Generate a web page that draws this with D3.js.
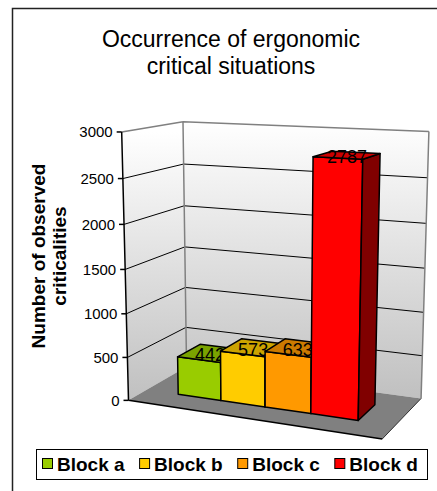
<!DOCTYPE html>
<html>
<head>
<meta charset="utf-8">
<script src="https://cdn.jsdelivr.net/npm/d3@7"></script>
<style>
  body { margin: 0; background: #fff; }
  text { font-family: "Liberation Sans", Arial, Helvetica, sans-serif; }
</style>
</head>
<body>
<script>
// ---- data ----
const categories = ["Block a", "Block b", "Block c", "Block d"];
const values = [442, 573, 633, 2787];
const colors = ["#99cc00", "#ffcc00", "#ff9900", "#ff0000"];
const topColors = ["#7aa300", "#cca300", "#cc7a00", "#cc0000"];
const sideColors = ["#4d6600", "#806600", "#804d00", "#800000"];
const yTicks = [0, 500, 1000, 1500, 2000, 2500, 3000];
const titleLines = ["Occurrence of ergonomic", "critical situations"];
const yTitleLines = ["Number of observed", "criticalities"];

const W = 437, H = 491;
const svg = d3.select("body").append("svg").attr("width", W).attr("height", H);

// ---- 3D plot box: screen positions of the box corners and wall gridlines ----
// box coordinates: u (left->right), v (value fraction), w (front->back)
const frontLeft = (y) => [128.3 - 6.6 * (399.5 - y) / 267, y];
const backLeft = (y) => [187 - 4.3 * (368 - y) / 247, y];
const backRight = (y) => [420.5 + 8.8 * (398 - y) / 266, y];
const calib = [
  [0, 0, 0, 128.3, 399.5], [0, 1, 0, 121.7, 132.5],
  [0, 0, 1, 187, 368], [0, 1, 1, 182.7, 121],
  [1, 1, 1, 429.3, 132.3], [1, 0, 1, 420.5, 398],
  [1, 0, 0, 383, 440]
];
[357, 313, 269, 225, 179].forEach((y, k) => calib.push([0, (k + 1) / 6, 0, ...frontLeft(y)]));
[327.7, 287.7, 246.7, 205.7, 164].forEach((y, k) => calib.push([0, (k + 1) / 6, 1, ...backLeft(y)]));
[356, 311.7, 268.3, 221.7, 178.3].forEach((y, k) => calib.push([1, (k + 1) / 6, 1, ...backRight(y)]));

// least-squares fit of a projective camera (3x4, last entry fixed to 1)
function fitCamera(pts) {
  const n = 11;
  const M = Array.from({ length: n }, () => new Array(n + 1).fill(0));
  const addRow = (r, b) => {
    for (let i = 0; i < n; i++) {
      for (let j = 0; j < n; j++) M[i][j] += r[i] * r[j];
      M[i][n] += r[i] * b;
    }
  };
  pts.forEach(([X, Y, Z, x, y]) => {
    addRow([X, Y, Z, 1, 0, 0, 0, 0, -x * X, -x * Y, -x * Z], x);
    addRow([0, 0, 0, 0, X, Y, Z, 1, -y * X, -y * Y, -y * Z], y);
  });
  for (let c = 0; c < n; c++) {
    let p = c;
    for (let r = c + 1; r < n; r++) if (Math.abs(M[r][c]) > Math.abs(M[p][c])) p = r;
    [M[c], M[p]] = [M[p], M[c]];
    for (let r = 0; r < n; r++) {
      if (r === c) continue;
      const f = M[r][c] / M[c][c];
      for (let k = c; k <= n; k++) M[r][k] -= f * M[c][k];
    }
  }
  return M.map((row, i) => row[n] / row[i]);
}
const cam = fitCamera(calib);
function proj(u, v, w) {
  const d = cam[8] * u + cam[9] * v + cam[10] * w + 1;
  return [(cam[0] * u + cam[1] * v + cam[2] * w + cam[3]) / d,
          (cam[4] * u + cam[5] * v + cam[6] * w + cam[7]) / d];
}
const poly = (pts) => pts.map(p => proj(...p).map(n => n.toFixed(2)).join(",")).join(" ");
const line = (a, b) => { const p = proj(...a), q = proj(...b); return `M${p[0]},${p[1]}L${q[0]},${q[1]}`; };

// ---- scales ----
const yScale = d3.scaleLinear().domain([0, 3000]).range([0, 1]);
const xBand = d3.scaleBand().domain(categories).range([0, 1]).paddingInner(0).paddingOuter(0.75);
const depth = [0.3, 0.7];

// ---- outer chart frame ----
svg.append("rect").attr("x", 12.5).attr("y", 8.5).attr("width", 600).attr("height", 700)
  .attr("fill", "#fff").attr("stroke", "#222").attr("stroke-width", 1.5);

// ---- title ----
svg.append("text").attr("text-anchor", "middle").attr("font-size", 23).attr("fill", "#000")
  .selectAll("tspan").data(titleLines).join("tspan")
  .attr("x", 231).attr("y", (d, i) => 47 + i * 27).text(d => d);

// ---- walls & floor ----
const defs = svg.append("defs");
function vGrad(id, y1, y2) {
  const g = defs.append("linearGradient").attr("id", id).attr("gradientUnits", "userSpaceOnUse")
    .attr("x1", 0).attr("x2", 0).attr("y1", y1).attr("y2", y2);
  g.append("stop").attr("offset", 0).attr("stop-color", "#ffffff");
  g.append("stop").attr("offset", 1).attr("stop-color", "#c0c0c0");
}
vGrad("leftWall", proj(0, 1, 0)[1], proj(0, 0, 0)[1]);
vGrad("backWall", proj(0, 1, 1)[1], proj(1, 0, 1)[1]);

const plot = svg.append("g");
plot.append("polygon").attr("points", poly([[0, 0, 0], [0, 1, 0], [0, 1, 1], [0, 0, 1]]))
  .attr("fill", "url(#leftWall)");
plot.append("polygon").attr("points", poly([[0, 0, 1], [0, 1, 1], [1, 1, 1], [1, 0, 1]]))
  .attr("fill", "url(#backWall)");
plot.append("polygon").attr("points", poly([[0, 0, 0], [1, 0, 0], [1, 0, 1], [0, 0, 1]]))
  .attr("fill", "#808080");

// gridlines on walls
const gridVals = yTicks.filter(t => t > 0 && t < 3000);
plot.append("g").selectAll("path").data(gridVals).join("path")
  .attr("d", t => line([0, yScale(t), 0], [0, yScale(t), 1]) + line([0, yScale(t), 1], [1, yScale(t), 1]))
  .attr("fill", "none").attr("stroke", "#000").attr("stroke-width", 1);

// wall edges
plot.append("path")
  .attr("d", line([0, 1, 0], [0, 1, 1]) + line([0, 1, 1], [1, 1, 1]) +
             line([0, 0, 1], [0, 1, 1]) + line([1, 0, 1], [1, 1, 1]))
  .attr("fill", "none").attr("stroke", "#808080").attr("stroke-width", 1.5);
plot.append("path").attr("d", line([1, 0, 0], [1, 0, 1]))
  .attr("fill", "none").attr("stroke", "#333").attr("stroke-width", 1);

// value axis + category axis lines
plot.append("path").attr("d", line([0, 0, 0], [0, 1, 0]) + line([0, 0, 0], [1, 0, 0]))
  .attr("fill", "none").attr("stroke", "#000").attr("stroke-width", 1.5);
const tickG = plot.append("g");
yTicks.forEach(t => {
  const [x, y] = proj(0, yScale(t), 0);
  tickG.append("line").attr("x1", x - 5).attr("x2", x).attr("y1", y).attr("y2", y)
    .attr("stroke", "#000").attr("stroke-width", 1.5);
  tickG.append("text").attr("x", x - 9).attr("y", y).attr("dy", "0.35em")
    .attr("text-anchor", "end").attr("font-size", 15).attr("fill", "#000").text(t);
});

// ---- bars ----
const barsG = svg.append("g").attr("stroke", "#000").attr("stroke-width", 1.5).attr("stroke-linejoin", "round");
categories.forEach((c, i) => {
  const u0 = xBand(c), u1 = u0 + xBand.bandwidth();
  const v1 = yScale(values[i]);
  const [w0, w1] = depth;
  const g = barsG.append("g");
  g.append("polygon").attr("points", poly([[u0, 0, w0], [u1, 0, w0], [u1, v1, w0], [u0, v1, w0]]))
    .attr("fill", colors[i]);
  g.append("polygon").attr("points", poly([[u1, 0, w0], [u1, 0, w1], [u1, v1, w1], [u1, v1, w0]]))
    .attr("fill", sideColors[i]);
  g.append("polygon").attr("points", poly([[u0, v1, w0], [u1, v1, w0], [u1, v1, w1], [u0, v1, w1]]))
    .attr("fill", topColors[i]);
  const [lx, ly] = proj((u0 + u1) / 2, v1, 0.5);
  g.append("text").attr("x", lx).attr("y", ly + 2).attr("dy", "0.35em").attr("stroke", "none")
    .attr("text-anchor", "middle").attr("font-size", 18).attr("fill", "#000").text(values[i]);
});

// ---- value axis title ----
svg.append("text").attr("transform", "translate(0,256) rotate(-90)")
  .attr("text-anchor", "middle").attr("font-size", 19).attr("font-weight", "bold").attr("fill", "#000")
  .selectAll("tspan").data(yTitleLines).join("tspan")
  .attr("x", 0).attr("y", (d, i) => 45 + i * 21).text(d => d);

// ---- legend ----
const legend = svg.append("g");
legend.append("rect").attr("x", 36.5).attr("y", 449.5).attr("width", 391).attr("height", 30)
  .attr("fill", "#fff").attr("stroke", "#000").attr("stroke-width", 1);
let lx = 42;
categories.forEach((c, i) => {
  legend.append("rect").attr("x", lx + 0.5).attr("y", 458.5).attr("width", 10).attr("height", 10)
    .attr("fill", colors[i]).attr("stroke", "#000").attr("stroke-width", 1);
  const t = legend.append("text").attr("x", lx + 15).attr("y", 471).attr("font-size", 19)
    .attr("font-weight", "bold").attr("fill", "#000").text(c);
  lx += 15 + t.node().getComputedTextLength() + 14.5;
});
</script>
</body>
</html>
